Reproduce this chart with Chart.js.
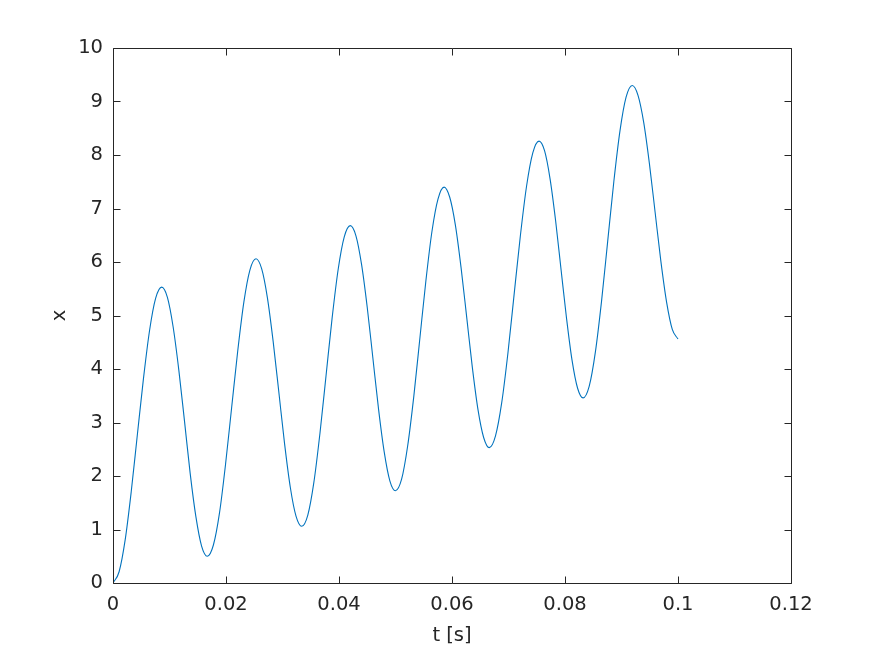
<!DOCTYPE html>
<html><head><meta charset="utf-8">
<script src="https://cdn.jsdelivr.net/npm/chart.js@4/dist/chart.umd.min.js"></script>
<style>html,body{margin:0;padding:0;background:#fff;}#wrap{width:874px;height:655px;}</style>
</head><body><div id="wrap"><canvas id="c" width="874" height="655"></canvas></div>
<script>
const tValues = [0,
  0.00108, 0.00216, 0.00323, 0.00431, 0.00539, 0.00647, 0.00754, 0.00862,
  0.00963, 0.01064, 0.01165, 0.01266, 0.01366, 0.01467, 0.01568, 0.01669,
  0.01777, 0.01885, 0.01992, 0.02100, 0.02208, 0.02316, 0.02423, 0.02531,
  0.02632, 0.02733, 0.02834, 0.02936, 0.03037, 0.03138, 0.03239, 0.03340,
  0.03448, 0.03555, 0.03663, 0.03770, 0.03878, 0.03985, 0.04093, 0.04200,
  0.04300, 0.04400, 0.04500, 0.04600, 0.04700, 0.04800, 0.04900, 0.05000,
  0.05108, 0.05215, 0.05323, 0.05430, 0.05538, 0.05645, 0.05753, 0.05860,
  0.05960, 0.06060, 0.06160, 0.06260, 0.06360, 0.06460, 0.06560, 0.06660,
  0.06770, 0.06880, 0.06990, 0.07100, 0.07210, 0.07320, 0.07430, 0.07540,
  0.07638, 0.07735, 0.07833, 0.07930, 0.08028, 0.08125, 0.08223, 0.08320,
  0.08429, 0.08538, 0.08646, 0.08755, 0.08864, 0.08973, 0.09081, 0.09190,
  0.09291, 0.09393, 0.09494, 0.09595, 0.09696, 0.09798, 0.09899, 0.10000];
const xValues = [0,
  0.21, 0.81, 1.71, 2.77, 3.82, 4.72, 5.32, 5.53,
  5.34, 4.79, 3.98, 3.02, 2.05, 1.24, 0.69, 0.50,
  0.71, 1.31, 2.22, 3.28, 4.34, 5.25, 5.85, 6.06,
  5.87, 5.33, 4.52, 3.56, 2.60, 1.79, 1.25, 1.06,
  1.27, 1.88, 2.80, 3.87, 4.95, 5.86, 6.47, 6.68,
  6.49, 5.95, 5.15, 4.20, 3.25, 2.45, 1.91, 1.725,
  1.94, 2.56, 3.48, 4.56, 5.65, 6.57, 7.18, 7.40,
  7.21, 6.69, 5.90, 4.97, 4.03, 3.24, 2.72, 2.53,
  2.75, 3.37, 4.30, 5.40, 6.49, 7.42, 8.04, 8.26,
  8.08, 7.56, 6.78, 5.86, 4.94, 4.16, 3.64, 3.46,
  3.68, 4.32, 5.26, 6.38, 7.50, 8.45, 9.08, 9.30,
  9.12, 8.61, 7.84, 6.93, 6.02, 5.25, 4.74, 4.56];
const xTickValues = [0, 0.02, 0.04, 0.06, 0.08, 0.1, 0.12];
const xTickLabels = ['0', '0.02', '0.04', '0.06', '0.08', '0.1', '0.12'];
const yTickValues = [0, 1, 2, 3, 4, 5, 6, 7, 8, 9, 10];
const yTickLabels = ['0', '1', '2', '3', '4', '5', '6', '7', '8', '9', '10'];
const xAxisTitle = 't [s]';
const yAxisTitle = 'x';

const axisColor = '#262626';
const fontFamily = '"DejaVu Sans", sans-serif';
const fontSize = 19.5;

const boxTicks = {
  id: 'boxTicks',
  afterDraw(chart) {
    const {ctx, chartArea: a, scales: {x, y}} = chart;
    const L = Math.round(a.left) + 0.5, R = Math.round(a.right) + 0.5;
    const T = Math.round(a.top) + 0.5, B = Math.round(a.bottom) + 0.5;
    ctx.save();
    ctx.strokeStyle = axisColor;
    ctx.lineWidth = 1;
    ctx.beginPath();
    ctx.rect(L, T, R - L, B - T);
    x.ticks.forEach(t => {
      const px = Math.round(x.getPixelForValue(t.value)) + 0.5;
      ctx.moveTo(px, B); ctx.lineTo(px, B - 7);
      ctx.moveTo(px, T); ctx.lineTo(px, T + 7);
    });
    y.ticks.forEach(t => {
      const py = Math.round(y.getPixelForValue(t.value)) + 0.5;
      ctx.moveTo(L, py); ctx.lineTo(L + 7, py);
      ctx.moveTo(R, py); ctx.lineTo(R - 7, py);
    });
    ctx.stroke();
    ctx.restore();
  }
};

new Chart(document.getElementById('c'), {
  type: 'line',
  data: {
    datasets: [{
      data: tValues.map((t, i) => ({x: t, y: xValues[i]})),
      borderColor: '#0072BD',
      borderWidth: 1.1,
      pointRadius: 0,
      fill: false,
      cubicInterpolationMode: 'monotone'
    }]
  },
  options: {
    responsive: false,
    devicePixelRatio: 1,
    animation: false,
    layout: {padding: {left: 0, top: 48, right: 83, bottom: 0}},
    plugins: {legend: {display: false}, tooltip: {enabled: false}},
    scales: {
      x: {
        type: 'linear', position: 'bottom', min: 0, max: 0.12,
        afterBuildTicks: s => { s.ticks = xTickValues.map(v => ({value: v})); },
        afterFit: s => { s.height = 72; },
        grid: {display: false, drawTicks: false},
        border: {display: false},
        ticks: {
          autoSkip: false, maxRotation: 0, padding: 10, color: axisColor,
          font: {family: fontFamily, size: fontSize},
          callback: (v, i) => xTickLabels[i]
        },
        title: {display: true, text: xAxisTitle, color: axisColor,
          font: {family: fontFamily, size: fontSize}, padding: {top: 0, bottom: 7}}
      },
      y: {
        type: 'linear', position: 'left', min: 0, max: 10,
        afterBuildTicks: s => { s.ticks = yTickValues.map(v => ({value: v})); },
        afterFit: s => { s.width = 113; },
        grid: {display: false, drawTicks: false},
        border: {display: false},
        ticks: {
          autoSkip: false, padding: 10, color: axisColor,
          font: {family: fontFamily, size: fontSize},
          callback: (v, i) => yTickLabels[i]
        },
        title: {display: true, text: yAxisTitle, color: axisColor,
          font: {family: fontFamily, size: fontSize}, padding: {top: 48, bottom: 0}}
      }
    }
  },
  plugins: [boxTicks]
});
</script></body></html>
